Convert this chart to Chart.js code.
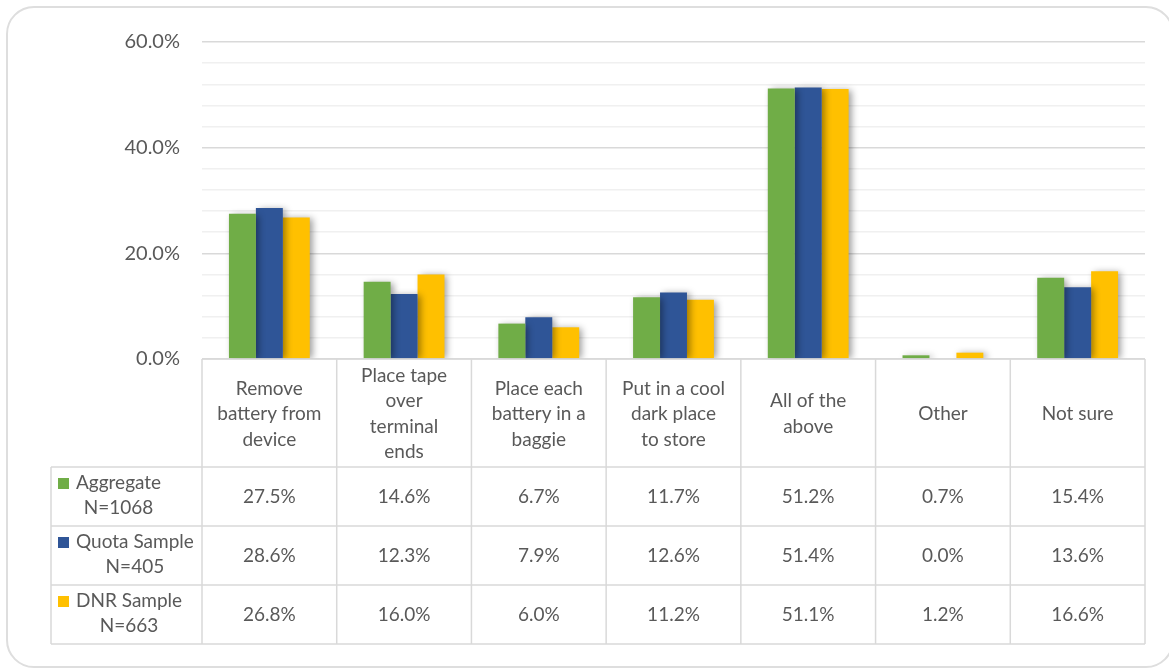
<!DOCTYPE html>
<html>
<head>
<meta charset="utf-8">
<script src="https://cdn.jsdelivr.net/npm/chart.js@4.4.1/dist/chart.umd.min.js"></script>
<style>
  html,body{margin:0;padding:0;background:#fff;overflow:hidden;}
  #wrap{position:relative;width:1169px;height:670px;}
  #card{position:absolute;left:6px;top:6px;width:1168px;height:662px;border:2px solid #dedede;border-radius:28px;box-sizing:border-box;}
  canvas{position:absolute;left:0;top:0;}
</style>
</head>
<body>
<div id="wrap">
  <div id="card"></div>
  <canvas id="chart" width="1169" height="670"></canvas>
</div>
<script>
// --- Data ---
const categories = [
  ['Remove', 'battery from', 'device'],
  ['Place tape', 'over', 'terminal', 'ends'],
  ['Place each', 'battery in a', 'baggie'],
  ['Put in a cool', 'dark place', 'to store'],
  ['All of the', 'above'],
  ['Other'],
  ['Not sure']
];
const seriesNames = [
  ['Aggregate', 'N=1068'],
  ['Quota Sample', 'N=405'],
  ['DNR Sample', 'N=663']
];
const seriesColors = ['#70AD47', '#2F5597', '#FFC000'];
const aggregate = [27.5, 14.6, 6.7, 11.7, 51.2, 0.7, 15.4];
const quotaSample = [28.6, 12.3, 7.9, 12.6, 51.4, 0.0, 13.6];
const dnrSample = [26.8, 16.0, 6.0, 11.2, 51.1, 1.2, 16.6];
const seriesValues = [aggregate, quotaSample, dnrSample];

const TEXT = '#595959';
const LINE = '#d9d9d9';
const FONT = 'Lato, "Open Sans", sans-serif';

// --- soft drop shadow behind bars ---
const barShadow = {
  id: 'barShadow',
  beforeDatasetDraw(chart){
    const c = chart.ctx;
    c.save();
    c.shadowColor = 'rgba(0,0,0,0.4)';
    c.shadowBlur = 7;
    c.shadowOffsetX = 3;
    c.shadowOffsetY = 1;
  },
  afterDatasetDraw(chart){ chart.ctx.restore(); }
};

// --- data table under the plot ---
const HEADER_H = 108, ROW_H = 59, LEGEND_LEFT = 51;
const dataTable = {
  id: 'dataTable',
  afterDraw(chart){
    const {ctx, chartArea} = chart;
    const x = chart.scales.x;
    const step = x.getPixelForValue(1) - x.getPixelForValue(0);
    const top = chartArea.bottom;
    const rowsTop = top + HEADER_H;
    const bottom = rowsTop + ROW_H * seriesValues.length;
    const left = chartArea.left, right = chartArea.right;

    ctx.save();
    ctx.strokeStyle = LINE;
    ctx.lineWidth = 1.5;
    ctx.beginPath();
    // horizontal lines
    ctx.moveTo(left, top); ctx.lineTo(right, top);
    for(let r=0;r<=seriesValues.length;r++){
      const y = rowsTop + r*ROW_H;
      ctx.moveTo(LEGEND_LEFT, y); ctx.lineTo(right, y);
    }
    // vertical lines
    for(let i=0;i<=categories.length;i++){
      const xx = left + i*step;
      ctx.moveTo(xx, top); ctx.lineTo(xx, bottom);
    }
    ctx.moveTo(LEGEND_LEFT, rowsTop); ctx.lineTo(LEGEND_LEFT, bottom);
    ctx.stroke();

    ctx.fillStyle = TEXT;
    ctx.textAlign = 'center';
    ctx.textBaseline = 'middle';
    ctx.font = '19px ' + FONT;

    // category headers
    const lh = 25.5;
    categories.forEach((lines, i) => {
      const cx = x.getPixelForValue(i);
      const cy = top + HEADER_H/2 + 1;
      const start = cy - (lines.length-1)*lh/2;
      lines.forEach((t, k) => ctx.fillText(t, cx, start + k*lh));
    });

    // value rows with legend keys
    seriesValues.forEach((vals, r) => {
      const rt = rowsTop + r*ROW_H;
      const cy = rt + ROW_H/2;
      vals.forEach((v, i) => ctx.fillText(v.toFixed(1) + '%', x.getPixelForValue(i), cy));

      ctx.fillStyle = seriesColors[r];
      ctx.fillRect(58, rt + 11, 11, 11);
      ctx.fillStyle = TEXT;
      const names = seriesNames[r];
      const w = Math.max(...names.map(n => ctx.measureText(n).width));
      const tx = 76 + w/2;
      names.forEach((n, k) => ctx.fillText(n, tx, rt + 16 + k*25));
    });
    ctx.restore();
  }
};

new Chart(document.getElementById('chart'), {
  type: 'bar',
  data: {
    labels: categories.map(c => c.join(' ')),
    datasets: seriesValues.map((vals, i) => ({
      label: seriesNames[i].join(' '),
      data: vals,
      backgroundColor: seriesColors[i],
      borderWidth: 0,
      categoryPercentage: 0.6,
      barPercentage: 1.0
    }))
  },
  options: {
    responsive: false,
    animation: false,
    layout: { padding: { left: 0, top: 42, right: 24, bottom: 311 } },
    plugins: { legend: { display: false }, tooltip: { enabled: false } },
    scales: {
      x: { display: false },
      y: {
        min: 0, max: 60,
        border: { display: false },
        afterFit(scale){ scale.width = 202; },
        grid: {
          drawTicks: false,
          lineWidth: 1.5,
          color: c => (c.tick && c.tick.value % 20 === 0) ? LINE : '#f0f0f0'
        },
        ticks: {
          stepSize: 4,
          autoSkip: false,
          padding: 22,
          color: TEXT,
          font: { family: FONT, size: 20 },
          callback: v => v % 20 === 0 ? v.toFixed(1) + '%' : ''
        }
      }
    }
  },
  plugins: [barShadow, dataTable]
});
</script>
</body>
</html>
